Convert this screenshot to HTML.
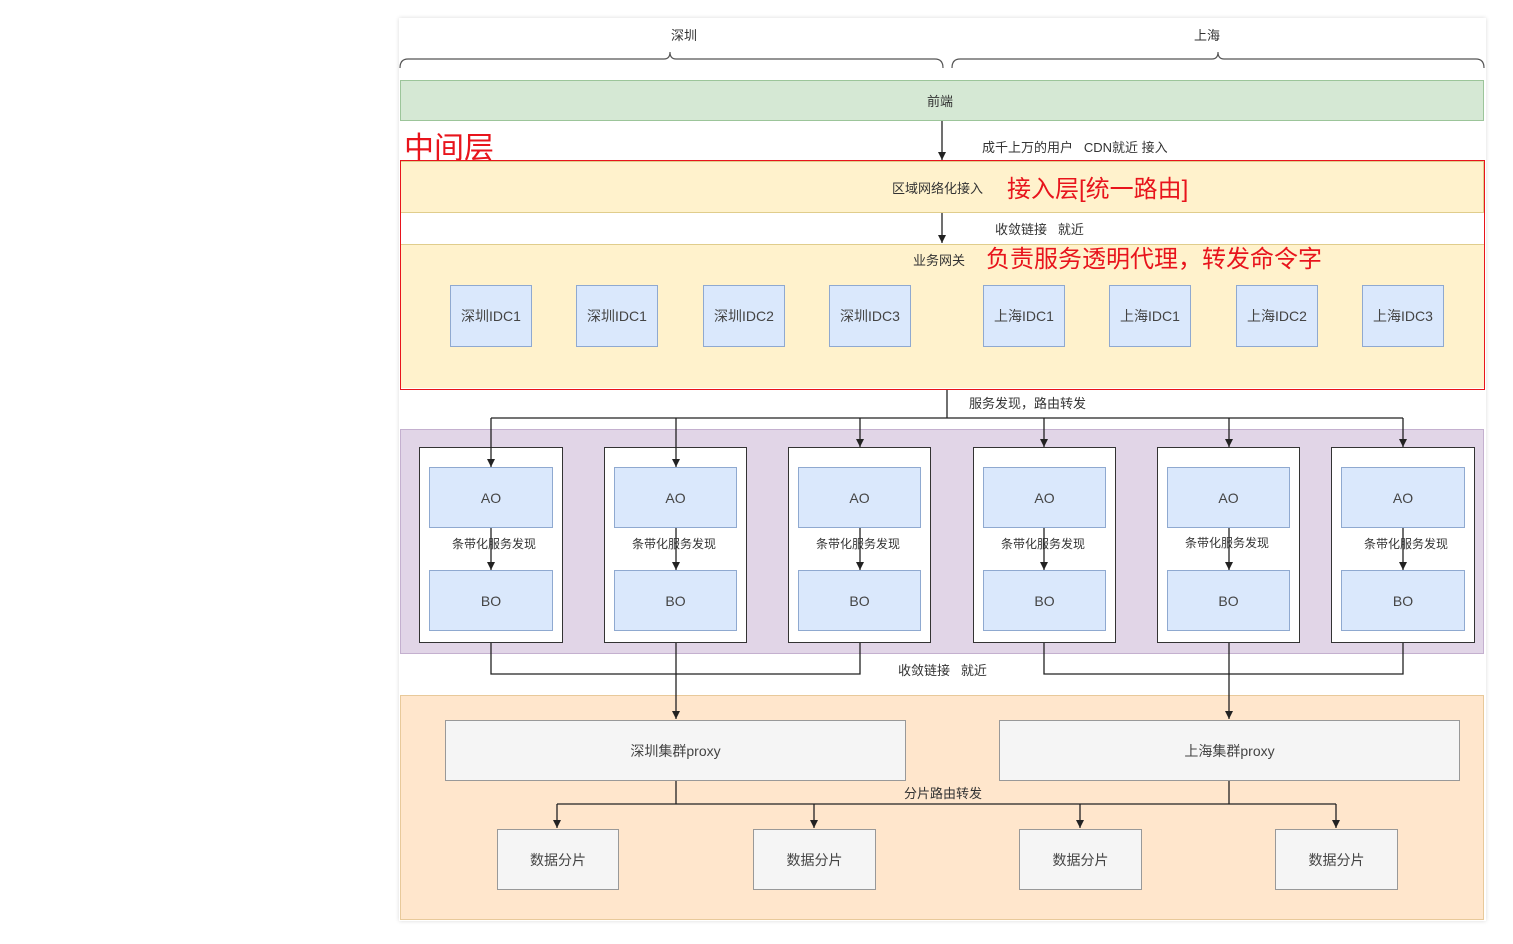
<!DOCTYPE html>
<html><head><meta charset="utf-8"><style>
body{margin:0;width:1513px;height:944px;background:#fff;position:relative;overflow:hidden;font-family:"Liberation Sans","Noto Sans CJK SC",sans-serif;}
.a{position:absolute;box-sizing:border-box;}
.t{position:absolute;font-size:13px;color:#333;white-space:nowrap;}
.c{display:flex;align-items:center;justify-content:center;font-size:14px;color:#444;}
.idc{background:#dae8fc;border:1px solid #8fa9d0;}
.grp{background:#fff;border:1.5px solid #333;}
.red{color:#e8141c;font-size:24px;}
</style></head><body>
<div class="a" style="left:399px;top:18px;width:1087px;height:903px;box-shadow:0 0 4px rgba(0,0,0,.15);background:#fff"></div>
<div class="a" style="left:400px;top:80px;width:1084px;height:41px;background:#d5e8d4;border:1px solid #9cc59a"></div>
<div class="a" style="left:400px;top:161px;width:1084px;height:52px;background:#fff2cc;border:1px solid #e0cd8c"></div>
<div class="a" style="left:400px;top:244px;width:1084px;height:144px;background:#fff2cc;border-top:1px solid #e0cd8c"></div>
<div class="a" style="left:400px;top:429px;width:1084px;height:225px;background:#e1d5e7;border:1px solid #c4b0cf"></div>
<div class="a" style="left:400px;top:695px;width:1084px;height:225px;background:#ffe6cc;border:1px solid #e8c99a"></div>
<div class="a" style="left:400px;top:160px;width:1085px;height:230px;border:1.5px solid #e8141c"></div>

<div class="a idc c" style="left:450px;top:285px;width:82px;height:62px">深圳IDC1</div>
<div class="a idc c" style="left:576px;top:285px;width:82px;height:62px">深圳IDC1</div>
<div class="a idc c" style="left:703px;top:285px;width:82px;height:62px">深圳IDC2</div>
<div class="a idc c" style="left:829px;top:285px;width:82px;height:62px">深圳IDC3</div>
<div class="a idc c" style="left:983px;top:285px;width:82px;height:62px">上海IDC1</div>
<div class="a idc c" style="left:1109px;top:285px;width:82px;height:62px">上海IDC1</div>
<div class="a idc c" style="left:1236px;top:285px;width:82px;height:62px">上海IDC2</div>
<div class="a idc c" style="left:1362px;top:285px;width:82px;height:62px">上海IDC3</div>

<div class="a grp" style="left:419px;top:447px;width:144px;height:196px"></div>
<div class="a grp" style="left:604px;top:447px;width:143px;height:196px"></div>
<div class="a grp" style="left:788px;top:447px;width:143px;height:196px"></div>
<div class="a grp" style="left:973px;top:447px;width:143px;height:196px"></div>
<div class="a grp" style="left:1157px;top:447px;width:143px;height:196px"></div>
<div class="a grp" style="left:1331px;top:447px;width:144px;height:196px"></div>

<div class="a idc c" style="left:429px;top:467px;width:124px;height:61px">AO</div>
<div class="a idc c" style="left:614px;top:467px;width:123px;height:61px">AO</div>
<div class="a idc c" style="left:798px;top:467px;width:123px;height:61px">AO</div>
<div class="a idc c" style="left:983px;top:467px;width:123px;height:61px">AO</div>
<div class="a idc c" style="left:1167px;top:467px;width:123px;height:61px">AO</div>
<div class="a idc c" style="left:1341px;top:467px;width:124px;height:61px">AO</div>
<div class="a idc c" style="left:429px;top:570px;width:124px;height:61px">BO</div>
<div class="a idc c" style="left:614px;top:570px;width:123px;height:61px">BO</div>
<div class="a idc c" style="left:798px;top:570px;width:123px;height:61px">BO</div>
<div class="a idc c" style="left:983px;top:570px;width:123px;height:61px">BO</div>
<div class="a idc c" style="left:1167px;top:570px;width:123px;height:61px">BO</div>
<div class="a idc c" style="left:1341px;top:570px;width:124px;height:61px">BO</div>

<div class="a c" style="left:445px;top:720px;width:461px;height:61px;background:#f5f5f5;border:1px solid #999">深圳集群proxy</div>
<div class="a c" style="left:999px;top:720px;width:461px;height:61px;background:#f5f5f5;border:1px solid #999">上海集群proxy</div>
<div class="a c" style="left:497px;top:829px;width:122px;height:61px;background:#f5f5f5;border:1px solid #999">数据分片</div>
<div class="a c" style="left:753px;top:829px;width:123px;height:61px;background:#f5f5f5;border:1px solid #999">数据分片</div>
<div class="a c" style="left:1019px;top:829px;width:123px;height:61px;background:#f5f5f5;border:1px solid #999">数据分片</div>
<div class="a c" style="left:1275px;top:829px;width:123px;height:61px;background:#f5f5f5;border:1px solid #999">数据分片</div>

<svg class="a" style="left:0;top:0" width="1513" height="944">
<defs>
<marker id="d" viewBox="0 0 8 8" markerWidth="8" markerHeight="8" refX="8" refY="4" orient="auto" markerUnits="userSpaceOnUse"><path d="M0,0 L8,4 L0,8 z" fill="#222"/></marker></defs>
<g fill="none" stroke="#555" stroke-width="1.2">
<path d="M400,68 Q400,59 408,59 L664,59 Q670,59 670,52 Q670,59 676,59 L935,59 Q943,59 943,68"/>
<path d="M952,68 Q952,59 960,59 L1212,59 Q1218,59 1218,52 Q1218,59 1224,59 L1476,59 Q1484,59 1484,68"/>
</g>
<g fill="none" stroke="#222" stroke-width="1.3" marker-end="url(#d)">
<path d="M942,121 V160"/><path d="M942,213 V243"/>
<path d="M491,418 V467"/><path d="M676,418 V467"/><path d="M860,418 V447"/><path d="M1044,418 V447"/><path d="M1229,418 V447"/><path d="M1403,418 V447"/>
<path d="M491,528 V570"/><path d="M676,528 V570"/><path d="M860,528 V570"/><path d="M1044,528 V570"/><path d="M1229,528 V570"/><path d="M1403,528 V570"/>
<path d="M676,643 V719"/><path d="M1229,643 V719"/>
<path d="M557,804 V828"/><path d="M814,804 V828"/><path d="M1080,804 V828"/><path d="M1336,804 V828"/>
</g>
<g fill="none" stroke="#222" stroke-width="1.3">
<path d="M947,390 V418 M491,418 H1403"/>
<path d="M491,643 V674 H860 V643 M1044,643 V674 H1403 V643"/>
<path d="M676,781 V804 M1229,781 V804 M557,804 H1336"/>
</g>
</svg>

<div class="t" style="left:671px;top:25px">深圳</div>
<div class="t" style="left:1194px;top:25px">上海</div>
<div class="t" style="left:927px;top:91px">前端</div>
<div class="t" style="left:404px;top:123px;color:#e8141c;font-size:30px">中间层</div>
<div class="t" style="left:982px;top:137px">成千上万的用户&nbsp;&nbsp; CDN就近 接入</div>
<div class="t" style="left:892px;top:178px">区域网络化接入</div>
<div class="t red" style="left:1007px;top:169px">接入层[统一路由]</div>
<div class="t" style="left:995px;top:219px">收敛链接&nbsp;&nbsp; 就近</div>
<div class="t" style="left:913px;top:250px">业务网关</div>
<div class="t red" style="left:986px;top:239px">负责服务透明代理，转发命令字</div>
<div class="t" style="left:969px;top:393px">服务发现，路由转发</div>
<div class="t" style="left:452px;top:535px;font-size:12px">条带化服务发现</div>
<div class="t" style="left:632px;top:535px;font-size:12px">条带化服务发现</div>
<div class="t" style="left:816px;top:535px;font-size:12px">条带化服务发现</div>
<div class="t" style="left:1001px;top:535px;font-size:12px">条带化服务发现</div>
<div class="t" style="left:1185px;top:534px;font-size:12px">条带化服务发现</div>
<div class="t" style="left:1364px;top:535px;font-size:12px">条带化服务发现</div>
<div class="t" style="left:898px;top:660px">收敛链接&nbsp;&nbsp; 就近</div>
<div class="t" style="left:904px;top:783px">分片路由转发</div>
</body></html>
